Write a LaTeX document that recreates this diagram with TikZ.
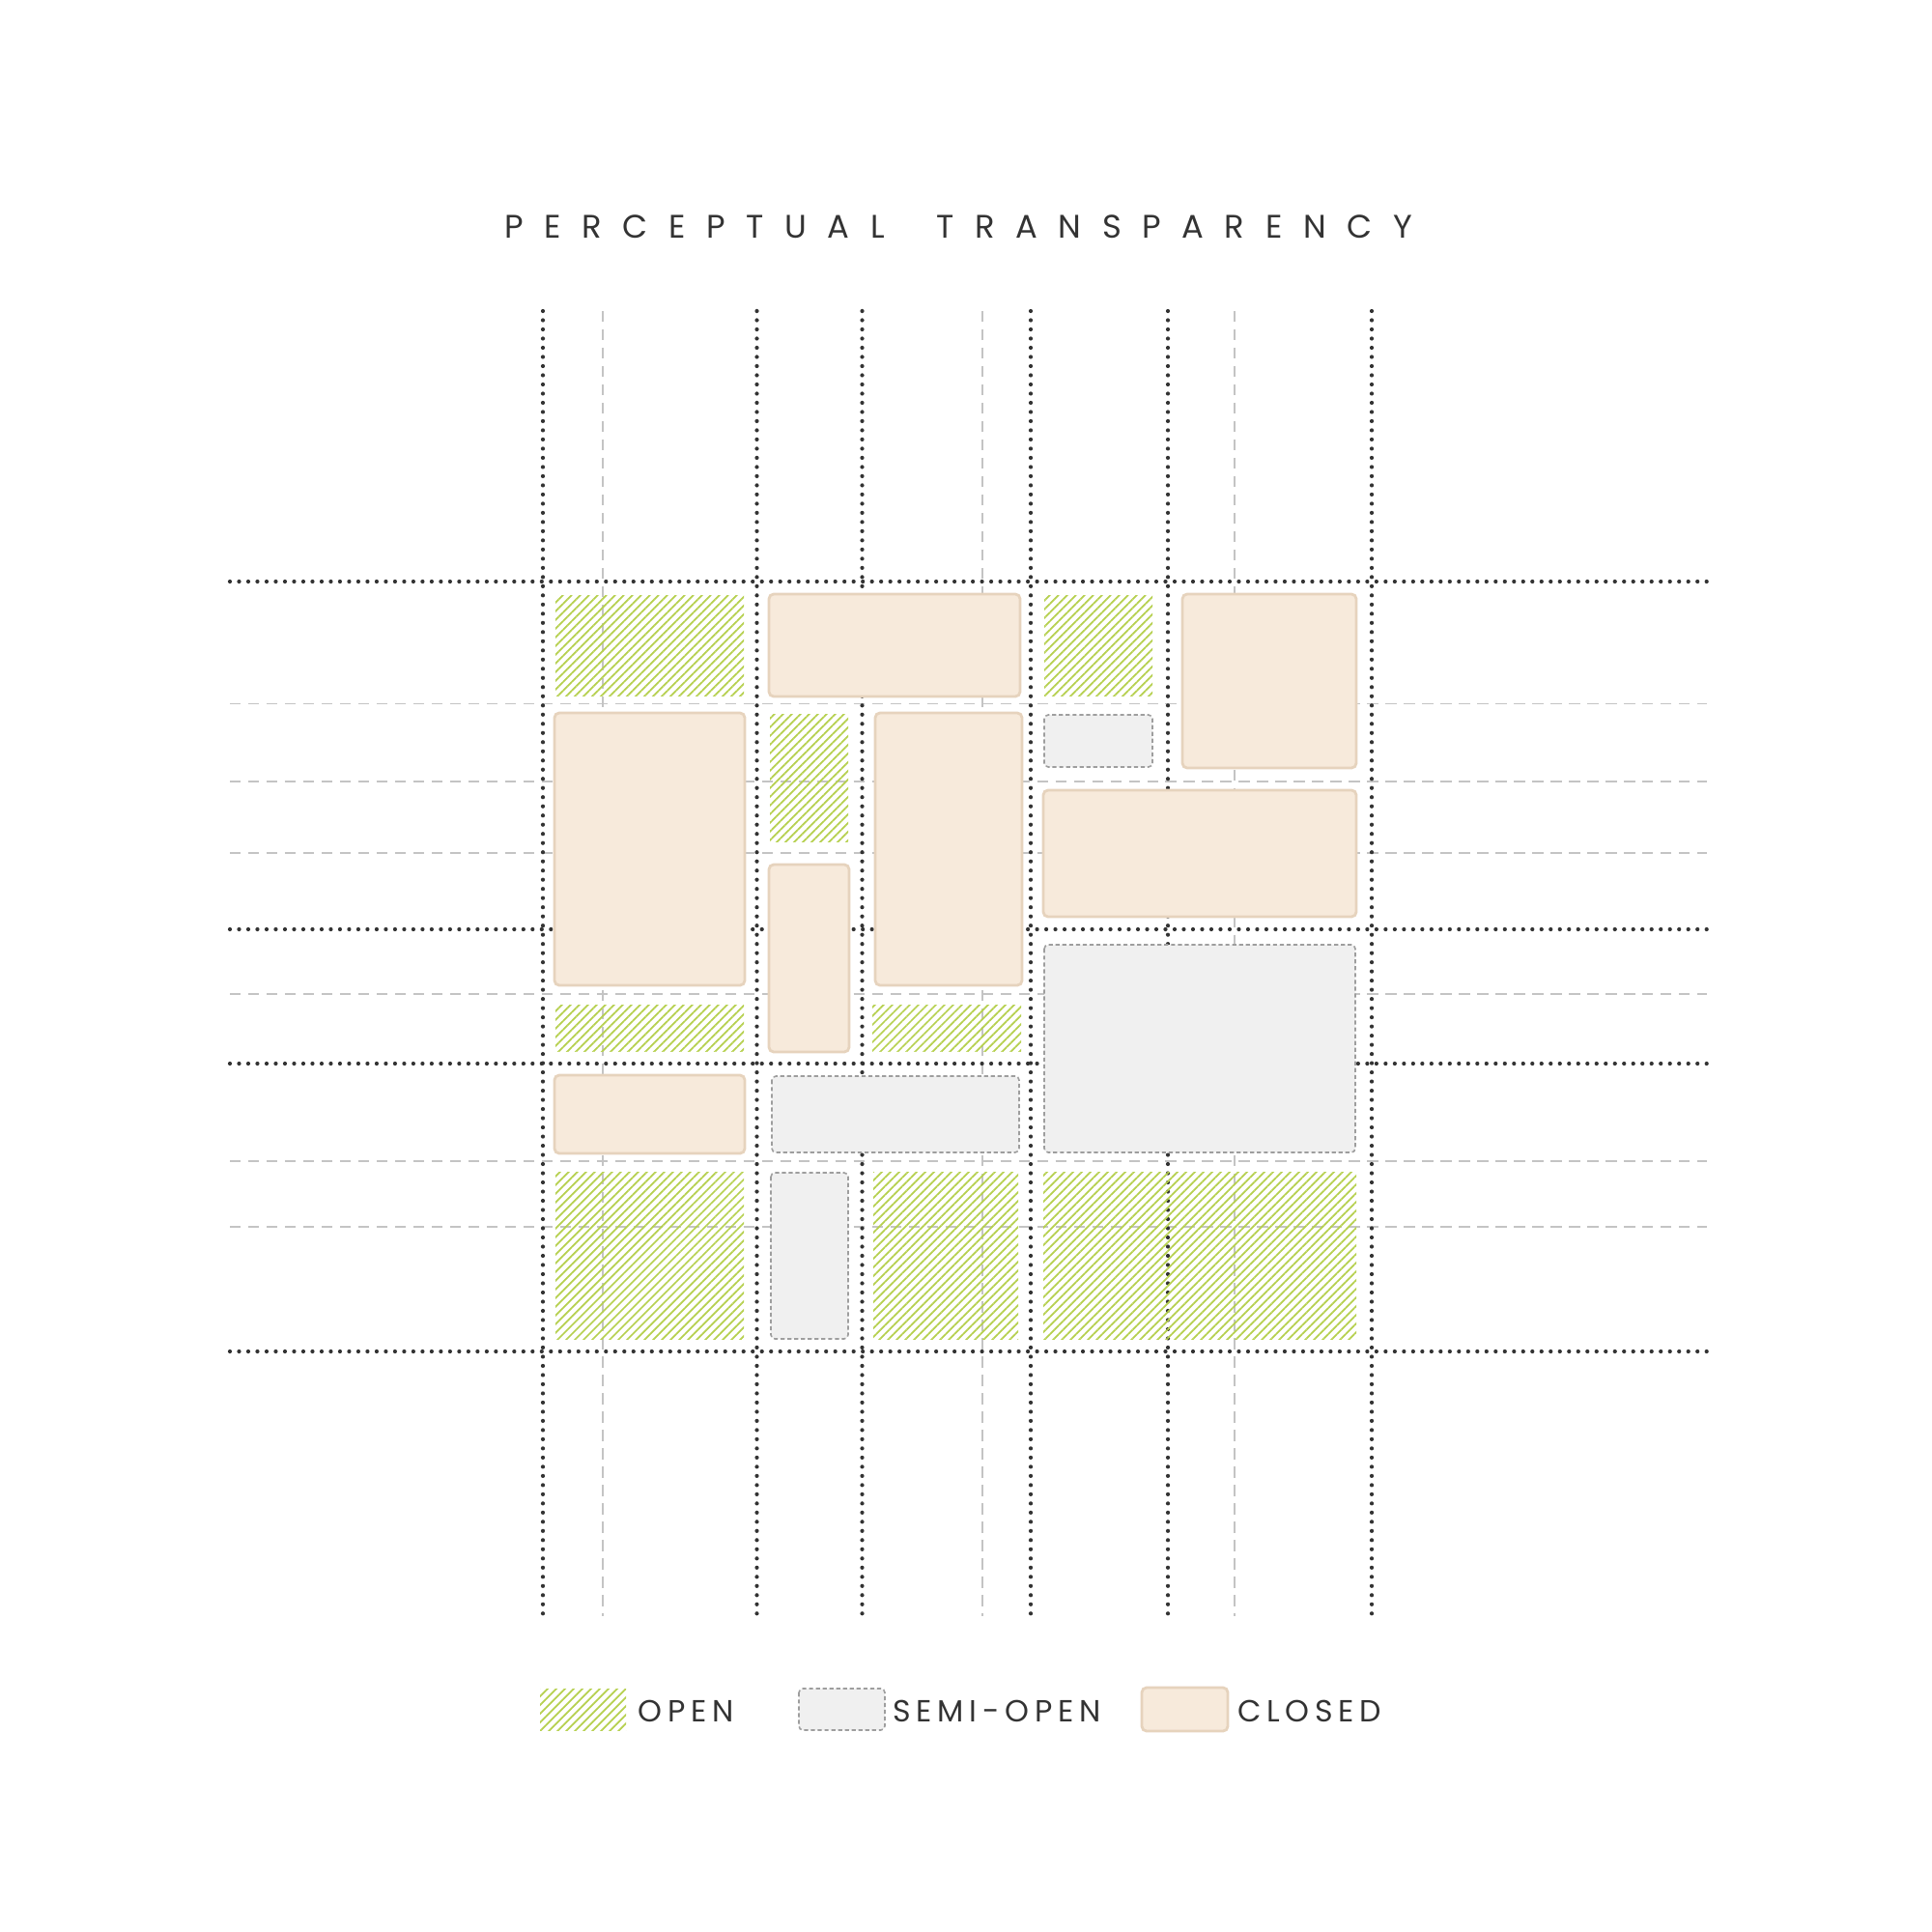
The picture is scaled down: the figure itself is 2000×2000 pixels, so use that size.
\documentclass[tikz,border=0pt]{standalone}
\usepackage{fontspec}
\setmainfont{Poppins}
\newfontfamily\titlefont[LetterSpace=64]{Poppins}
\newfontfamily\keyfont[LetterSpace=18]{Poppins}
\usepackage{xcolor}
\usetikzlibrary{patterns.meta}
\definecolor{ink}{HTML}{333333}
\definecolor{guidegrey}{HTML}{C4C4C4}
\definecolor{closedfill}{HTML}{F7EADB}
\definecolor{closedline}{HTML}{E6D3BD}
\definecolor{semifill}{HTML}{F0F0F0}
\definecolor{semiline}{HTML}{9E9E9E}
\definecolor{opengreen}{HTML}{B6D04F}

\begin{document}
\begin{tikzpicture}[x=0.01cm, y=-0.01cm,
  dots/.style={ink, line width=1.2pt, line cap=round, dash pattern=on 0pt off 2.7pt},
  guide/.style={guidegrey, line width=0.4pt, dash pattern=on 3.2pt off 2.2pt},
  closed/.style={fill=closedfill, draw=closedline, line width=0.8pt, rounded corners=1.4pt},
  semi/.style={fill=semifill, draw=semiline, line width=0.45pt, dash pattern=on 1.2pt off 0.8pt, rounded corners=1.2pt},
  open/.style={pattern={Lines[angle=45, distance=1.81pt, line width=0.5pt]}, pattern color=opengreen},
  label/.style={anchor=base west, inner sep=0pt, text=ink}]
\useasboundingbox (0,0) rectangle (2000,2000);

\node [label] (title) at (522,246) {\titlefont\fontsize{9.6}{11}\selectfont PERCEPTUAL\hspace{6.5pt} TRANSPARENCY};

% grid
\foreach \gx in {624,1017,1278} \draw [guide] (\gx,322) -- (\gx,1673);
\foreach \gy in {728.5,809,883,1029,1202,1270} \draw [guide] (238,\gy) -- (1767,\gy);
\foreach \gx in {562,783.5,892.5,1067,1209,1420} \draw [dots] (\gx,322) -- (\gx,1673);
\foreach \gy in {602,962,1101,1399} \draw [dots] (238,\gy) -- (1767,\gy);

% closed
\draw [closed] (796,615) rectangle (1056,721);
\draw [closed] (574,738) rectangle (771,1020);
\draw [closed] (796,895) rectangle (879,1089);
\draw [closed] (906,738) rectangle (1058,1020);
\draw [closed] (1224,615) rectangle (1404,795);
\draw [closed] (1080,818) rectangle (1404,949);
\draw [closed] (574,1113) rectangle (771,1194);

% semi-open
\draw [semi] (1081,740) rectangle (1193,794);
\draw [semi] (1081,978) rectangle (1403,1193);
\draw [semi] (799,1114) rectangle (1055,1193);
\draw [semi] (798,1214) rectangle (878,1386);

% open
\fill [open] (575,616) rectangle (770,720);
\fill [open] (797,739) rectangle (878,871);
\fill [open] (1081,616) rectangle (1193,720);
\fill [open] (575,1040) rectangle (770,1088);
\fill [open] (903,1040) rectangle (1057,1088);
\fill [open] (575,1213) rectangle (770,1386);
\fill [open] (904,1213) rectangle (1054,1386);
\fill [open] (1080,1213) rectangle (1404,1386);

% legend
\fill [open] (559,1748) rectangle (648,1791);
\node [label] (open) at (660,1782) {\keyfont\fontsize{9}{11}\selectfont OPEN};
\draw [semi] (827,1748) rectangle (916,1791);
\node [label] (semi) at (924,1782) {\keyfont\fontsize{9}{11}\selectfont SEMI-OPEN};
\draw [closed] (1182,1747) rectangle (1271,1792);
\node [label] (closed) at (1280.5,1782) {\keyfont\fontsize{9}{11}\selectfont CLOSED};
\end{tikzpicture}
\end{document}
